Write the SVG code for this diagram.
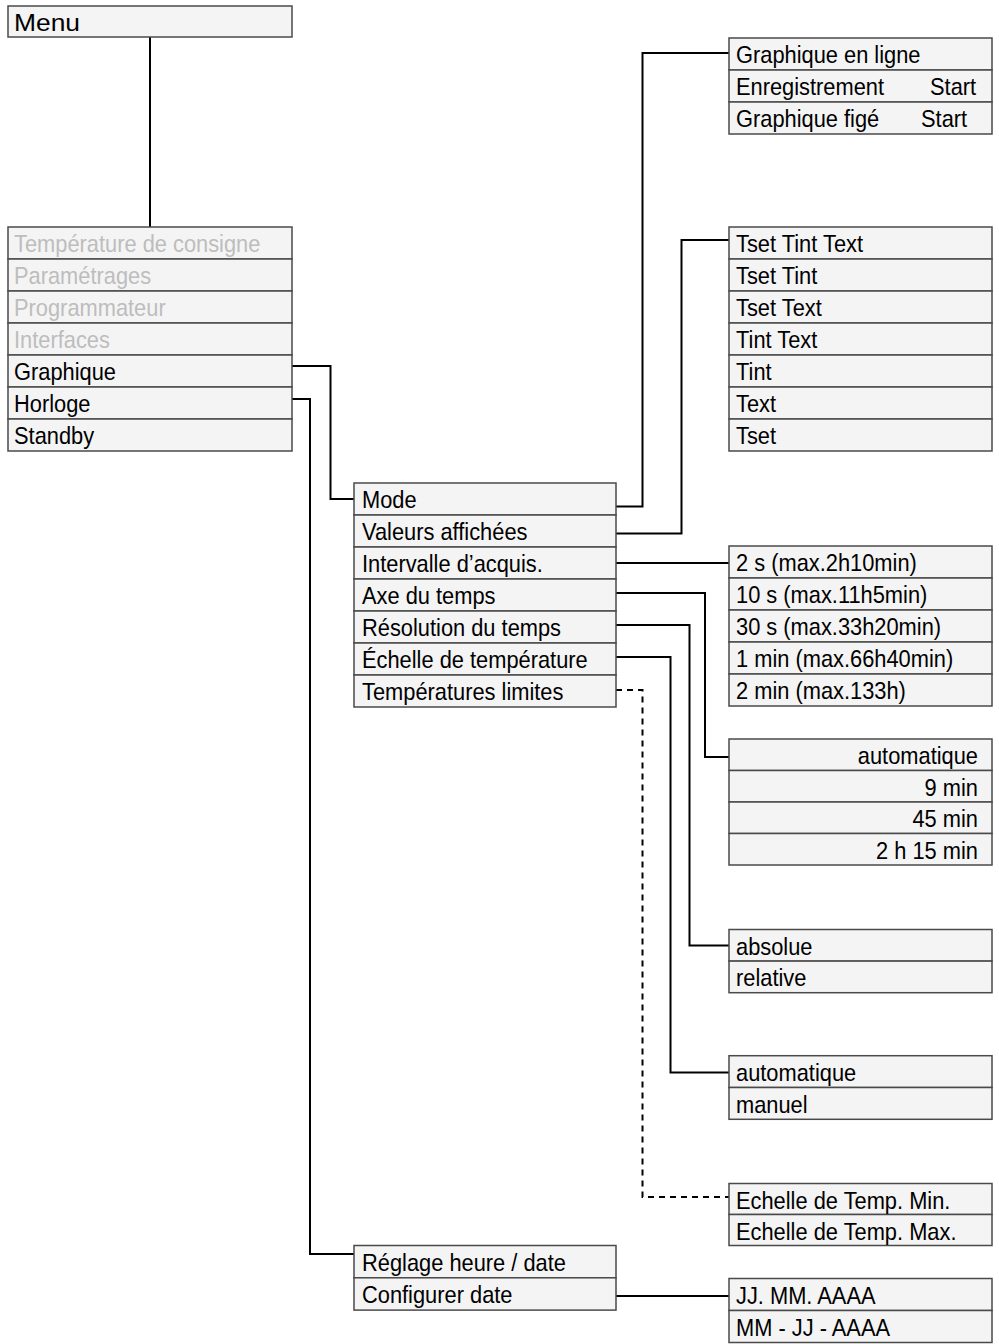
<svg xmlns="http://www.w3.org/2000/svg" width="999" height="1344" viewBox="0 0 999 1344">
<style>
rect{fill:#f4f4f4;stroke:#4a4a4a;stroke-width:1.5}
text{font-family:"Liberation Sans",Arial,sans-serif;font-size:24px;fill:#000}
text.g{fill:#bdbdbd}
text.r{text-anchor:end}
.c path{fill:none;stroke:#000;stroke-width:2}
.c path.d{stroke-dasharray:6 5}
</style>
<rect x="0" y="0" width="999" height="1344" style="fill:#fff;stroke:none"/>
<g class="c" id="connectors">
<path d="M150,37 V227"/>
<path d="M292,366 H330.5 V499 H354"/>
<path d="M292,399 H310 V1254 H354"/>
<path d="M616,506.5 H642.5 V53 H729"/>
<path d="M616,533.5 H681.5 V240 H729"/>
<path d="M616,563 H729"/>
<path d="M616,593 H705 V757 H729"/>
<path d="M616,625 H689.5 V945.5 H729"/>
<path d="M616,657 H670.5 V1072.5 H729"/>
<path class="d" d="M616,690 H642.5 V1197 H729"/>
<path d="M616,1296 H729"/>
</g>
<g id="menu">
<rect x="8" y="6" width="284" height="31"/>
<text transform="translate(14 31) scale(1.1 1)">Menu</text>
</g>
<g id="main-list">
<rect x="8" y="227" width="284" height="32"/>
<rect x="8" y="259" width="284" height="32"/>
<rect x="8" y="291" width="284" height="32"/>
<rect x="8" y="323" width="284" height="32"/>
<rect x="8" y="355" width="284" height="32"/>
<rect x="8" y="387" width="284" height="32"/>
<rect x="8" y="419" width="284" height="32"/>
<text class="g" transform="translate(14 252) scale(0.91 1)">Température de consigne</text>
<text class="g" transform="translate(14 284) scale(0.91 1)">Paramétrages</text>
<text class="g" transform="translate(14 316) scale(0.91 1)">Programmateur</text>
<text class="g" transform="translate(14 348) scale(0.91 1)">Interfaces</text>
<text transform="translate(14 380) scale(0.91 1)">Graphique</text>
<text transform="translate(14 412) scale(0.91 1)">Horloge</text>
<text transform="translate(14 444) scale(0.91 1)">Standby</text>
</g>
<g id="graphique-list">
<rect x="354" y="483" width="262" height="32"/>
<rect x="354" y="515" width="262" height="32"/>
<rect x="354" y="547" width="262" height="32"/>
<rect x="354" y="579" width="262" height="32"/>
<rect x="354" y="611" width="262" height="32"/>
<rect x="354" y="643" width="262" height="32"/>
<rect x="354" y="675" width="262" height="32"/>
<text transform="translate(362 508) scale(0.91 1)">Mode</text>
<text transform="translate(362 540) scale(0.91 1)">Valeurs affichées</text>
<text transform="translate(362 572) scale(0.91 1)">Intervalle d’acquis.</text>
<text transform="translate(362 604) scale(0.91 1)">Axe du temps</text>
<text transform="translate(362 636) scale(0.91 1)">Résolution du temps</text>
<text transform="translate(362 668) scale(0.91 1)">Échelle de température</text>
<text transform="translate(362 700) scale(0.91 1)">Températures limites</text>
</g>
<g id="mode-list">
<rect x="729" y="38" width="263" height="32"/>
<rect x="729" y="70" width="263" height="32"/>
<rect x="729" y="102" width="263" height="32"/>
<text transform="translate(736 63) scale(0.91 1)">Graphique en ligne</text>
<text transform="translate(736 95) scale(0.91 1)">Enregistrement</text>
<text transform="translate(930 95) scale(0.91 1)">Start</text>
<text transform="translate(736 127) scale(0.91 1)">Graphique figé</text>
<text transform="translate(921 127) scale(0.91 1)">Start</text>
</g>
<g id="valeurs-list">
<rect x="729" y="227" width="263" height="32"/>
<rect x="729" y="259" width="263" height="32"/>
<rect x="729" y="291" width="263" height="32"/>
<rect x="729" y="323" width="263" height="32"/>
<rect x="729" y="355" width="263" height="32"/>
<rect x="729" y="387" width="263" height="32"/>
<rect x="729" y="419" width="263" height="32"/>
<text transform="translate(736 252) scale(0.91 1)">Tset Tint Text</text>
<text transform="translate(736 284) scale(0.91 1)">Tset Tint</text>
<text transform="translate(736 316) scale(0.91 1)">Tset Text</text>
<text transform="translate(736 348) scale(0.91 1)">Tint Text</text>
<text transform="translate(736 380) scale(0.91 1)">Tint</text>
<text transform="translate(736 412) scale(0.91 1)">Text</text>
<text transform="translate(736 444) scale(0.91 1)">Tset</text>
</g>
<g id="intervalle-list">
<rect x="729" y="546" width="263" height="32"/>
<rect x="729" y="578" width="263" height="32"/>
<rect x="729" y="610" width="263" height="32"/>
<rect x="729" y="642" width="263" height="32"/>
<rect x="729" y="674" width="263" height="32"/>
<text transform="translate(736 571) scale(0.91 1)">2 s (max.2h10min)</text>
<text transform="translate(736 603) scale(0.91 1)">10 s (max.11h5min)</text>
<text transform="translate(736 635) scale(0.91 1)">30 s (max.33h20min)</text>
<text transform="translate(736 667) scale(0.91 1)">1 min (max.66h40min)</text>
<text transform="translate(736 699) scale(0.91 1)">2 min (max.133h)</text>
</g>
<g id="axe-list">
<rect x="729" y="739" width="263" height="31.5"/>
<rect x="729" y="770.5" width="263" height="31.5"/>
<rect x="729" y="802" width="263" height="31.5"/>
<rect x="729" y="833.5" width="263" height="31.5"/>
<text class="r" transform="translate(978 764) scale(0.91 1)">automatique</text>
<text class="r" transform="translate(978 795.5) scale(0.91 1)">9 min</text>
<text class="r" transform="translate(978 827) scale(0.91 1)">45 min</text>
<text class="r" transform="translate(978 858.5) scale(0.91 1)">2 h 15 min</text>
</g>
<g id="resolution-list">
<rect x="729" y="929.5" width="263" height="31.6"/>
<rect x="729" y="961.1" width="263" height="31.6"/>
<text transform="translate(736 954.5) scale(0.91 1)">absolue</text>
<text transform="translate(736 986) scale(0.91 1)">relative</text>
</g>
<g id="echelle-list">
<rect x="729" y="1055.7" width="263" height="31.8"/>
<rect x="729" y="1087.5" width="263" height="31.8"/>
<text transform="translate(736 1081) scale(0.91 1)">automatique</text>
<text transform="translate(736 1112.5) scale(0.91 1)">manuel</text>
</g>
<g id="limites-list">
<rect x="729" y="1183.5" width="263" height="31"/>
<rect x="729" y="1214.5" width="263" height="31"/>
<text transform="translate(736 1208.5) scale(0.91 1)">Echelle de Temp. Min.</text>
<text transform="translate(736 1239.5) scale(0.91 1)">Echelle de Temp. Max.</text>
</g>
<g id="horloge-list">
<rect x="354" y="1245.5" width="262" height="32.3"/>
<rect x="354" y="1277.8" width="262" height="32.3"/>
<text transform="translate(362 1270.5) scale(0.91 1)">Réglage heure / date</text>
<text transform="translate(362 1302.5) scale(0.91 1)">Configurer date</text>
</g>
<g id="date-list">
<rect x="729" y="1278.5" width="263" height="32"/>
<rect x="729" y="1310.5" width="263" height="32"/>
<text transform="translate(736 1303.5) scale(0.91 1)">JJ. MM. AAAA</text>
<text transform="translate(736 1335.5) scale(0.91 1)">MM - JJ - AAAA</text>
</g>
</svg>
